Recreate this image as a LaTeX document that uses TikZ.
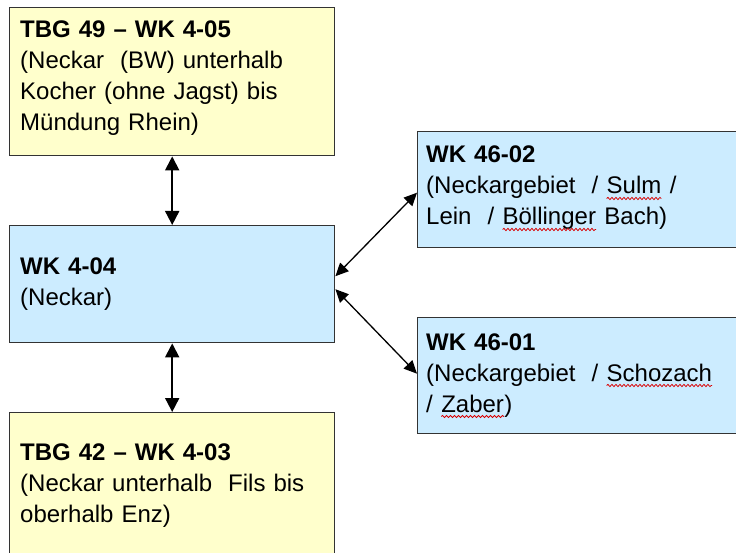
\documentclass[tikz,border=0pt]{standalone}
\usepackage{fontspec}
\setmainfont{Liberation Sans}
\usetikzlibrary{arrows.meta,positioning,decorations.pathmorphing}

\definecolor{tbgyellow}{RGB}{255,255,204}
\definecolor{wkblue}{RGB}{204,236,255}
% red wavy mark under a word
\newcommand{\spellwave}[1]{\tikz[baseline=(word.base)]{%
    \node[inner sep=0pt, outer sep=0pt] (word) {#1};
    \draw[red!85!black, line width=0.8pt, decorate, decoration={snake, amplitude=1.1pt, segment length=4pt}]
      ([yshift=-4.5pt]word.base west) -- ([yshift=-4.5pt]word.base east);}}

\begin{document}
\begin{tikzpicture}[x=1pt, y=-1pt,
    basebox/.style={draw=black!80, line width=1.4pt, anchor=north west, inner sep=0pt},
    tbgbox/.style={basebox, fill=tbgyellow, minimum width=325pt},
    wkbox/.style={basebox, fill=wkblue, minimum width=325pt},
    sidebox/.style={basebox, fill=wkblue, minimum width=345pt, minimum height=116pt},
    boxtext/.style={anchor=base west, inner sep=0pt, text width=315pt, align=left,
                    font=\fontsize{24}{31}\selectfont},
    link/.style={{Triangle[length=14pt,width=14pt]}-{Triangle[length=14pt,width=14pt]}, line width=1.9pt},
    slantlink/.style={{Triangle[length=13pt,width=12pt]}-{Triangle[length=13pt,width=12pt]}, line width=1.3pt}]

  \useasboundingbox (0,0) rectangle (736,553);
  \clip (0,0) rectangle (736,553);

  % boxes
  \node[tbgbox, minimum height=148pt] (tbg49) at (9,7) {};
  \node[wkbox, minimum height=117pt] (wk404) at (9,225) {};
  \node[tbgbox, minimum height=190pt] (tbg42) at (9,412) {};
  \node[sidebox] (wk4602) at (417,131) {};
  \node[sidebox] (wk4601) at (417,317) {};

  % texts
  \node[boxtext] (tbg49text) at (20,38)
    {\textbf{TBG 49 – WK 4-05}\\(Neckar \ (BW) unterhalb\\Kocher (ohne Jagst) bis\\Mündung Rhein)};
  \node[boxtext] (wk404text) at (20,275)
    {\textbf{WK 4-04}\\(Neckar)};
  \node[boxtext] (tbg42text) at (20,460)
    {\textbf{TBG 42 – WK 4-03}\\(Neckar unterhalb \ Fils bis\\oberhalb Enz)};
  \node[boxtext] (wk4602text) at (426,163)
    {\textbf{WK 46-02}\\(Neckargebiet \ / \spellwave{Sulm} /\\Lein \ / \spellwave{Böllinger} Bach)};
  \node[boxtext] (wk4601text) at (426,350)
    {\textbf{WK 46-01}\\(Neckargebiet \ / \spellwave{Schozach}\\/ \spellwave{Zaber})};

  % connections
  \draw[link] (tbg49.south) -- (wk404.north);
  \draw[link] (wk404.south) -- (tbg42.north);
  \draw[slantlink] ([yshift=8pt]wk404.east) -- ([yshift=-3pt]wk4602.west);
  \draw[slantlink] ([yshift=-5pt]wk404.east) -- ([yshift=2pt]wk4601.west);
\end{tikzpicture}
\end{document}
